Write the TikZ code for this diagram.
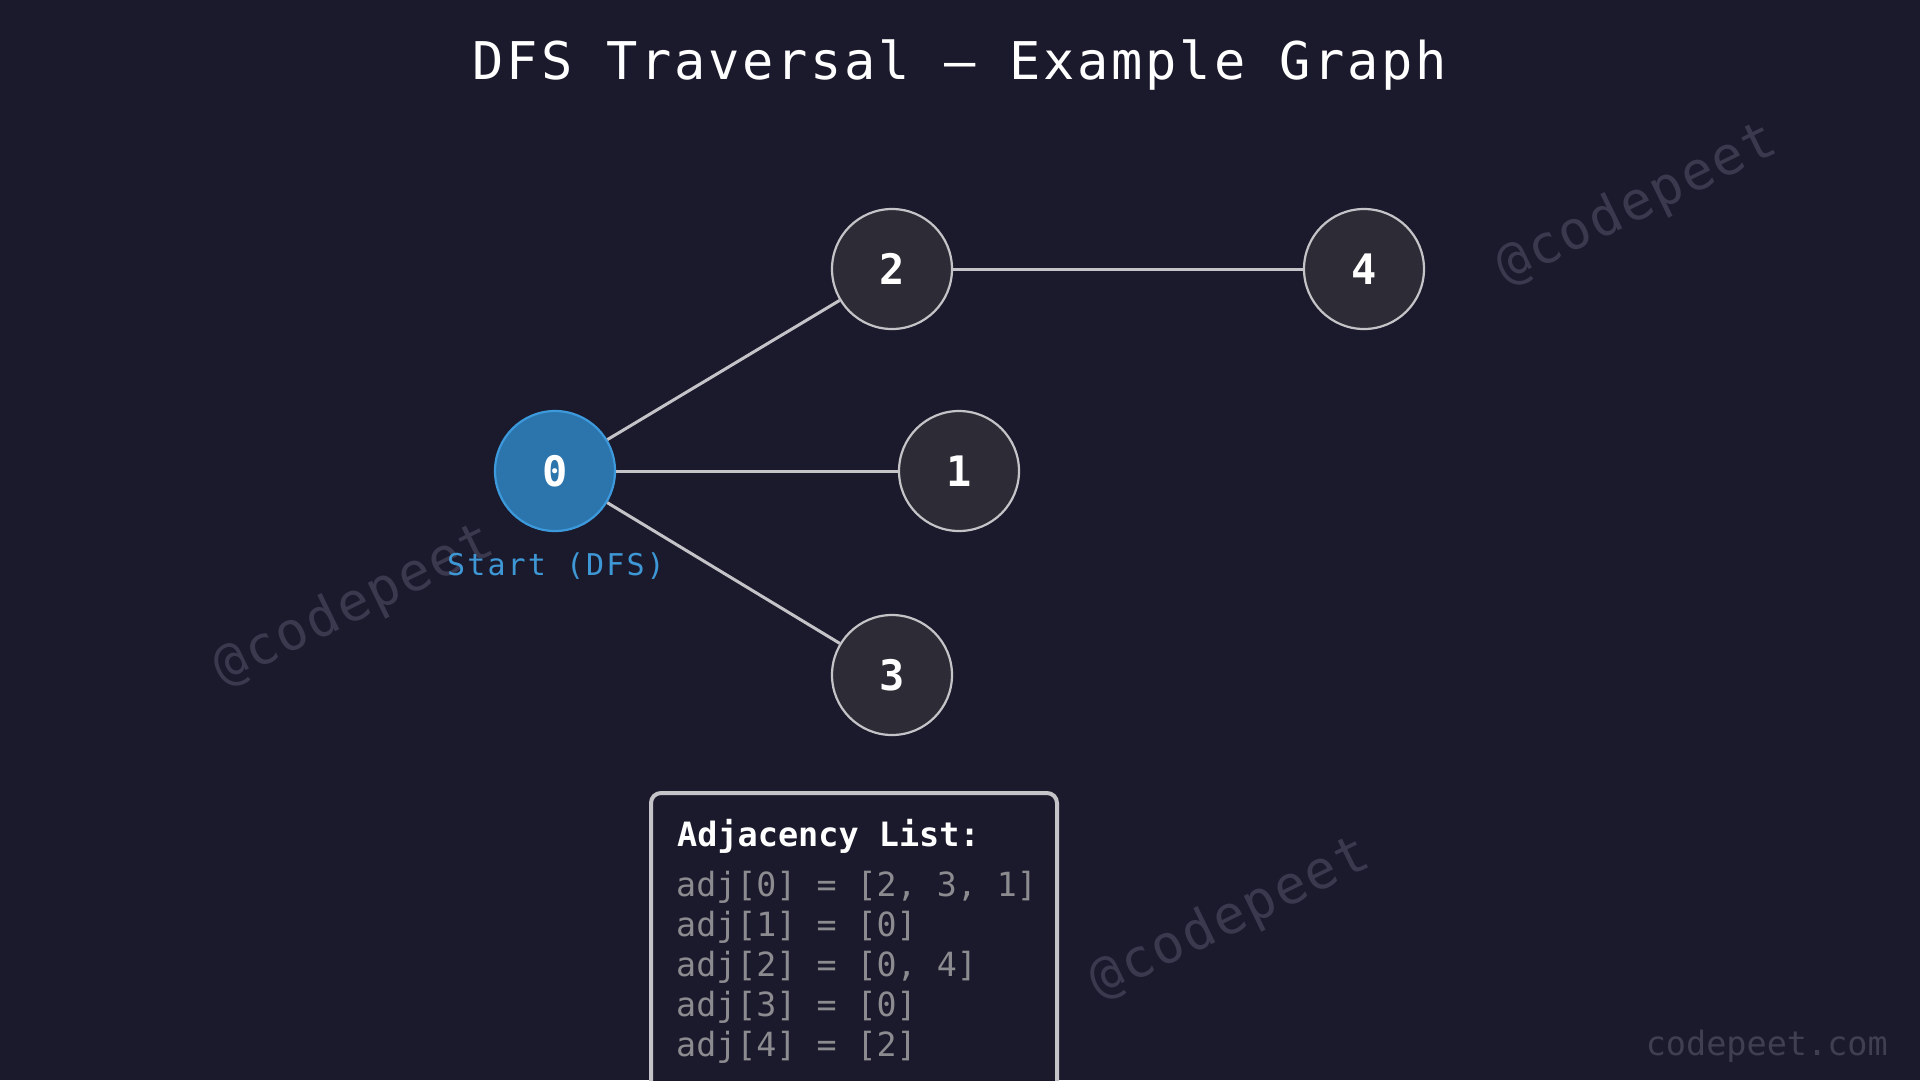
\documentclass[tikz,border=0pt]{standalone}
\usepackage{fontspec}
\setmainfont{DejaVu Sans Mono}
\newfontfamily\mono{DejaVu Sans Mono}
\newfontfamily\monowide[LetterSpace=7]{DejaVu Sans Mono}
\newfontfamily\monotitle[LetterSpace=5.3]{DejaVu Sans Mono}
\newfontfamily\monowm[LetterSpace=4]{DejaVu Sans Mono}
\definecolor{bg}{HTML}{1B1A2D}
\definecolor{nodefill}{HTML}{2D2C36}
\definecolor{edgecol}{HTML}{C4C4C8}
\definecolor{startfill}{HTML}{2C74AC}
\definecolor{startline}{HTML}{3C9ADC}
\definecolor{startlbl}{HTML}{3F98D6}
\definecolor{adjtext}{HTML}{8C8C90}
\definecolor{wm}{HTML}{3A394D}
\definecolor{foot}{HTML}{403F52}
\tikzset{
  gnode/.style={circle, minimum size=120pt, inner sep=0pt, fill=nodefill, draw=edgecol, line width=2.2pt,
    text=white, font={\mono\bfseries\fontsize{42}{42}\selectfont}},
  startnode/.style={gnode, fill=startfill, draw=startline},
  edge/.style={draw=edgecol, line width=3pt},
  watermark/.style={text=wm, rotate=26, font={\monowm\fontsize{53}{53}\selectfont}},
  adjline/.style={anchor=west, text=adjtext, inner sep=0pt, font={\mono\fontsize{33.3}{33.3}\selectfont}}
}
\begin{document}
\begin{tikzpicture}[x=1pt, y=-1pt]
\fill[bg] (0,0) rectangle (1920,1080);
\useasboundingbox (0,0) rectangle (1920,1080);

% watermarks
\node[watermark] (wm1) at (354,606) {@codepeet};
\node[watermark] (wm2) at (1637,205) {@codepeet};
\node[watermark] (wm3) at (1230,919) {@codepeet};

% title
\node[text=white, font={\monotitle\fontsize{52}{52}\selectfont}] (title) at (960,65) {DFS Traversal — Example Graph};

% nodes
\node[startnode] (n0) at (555,471) {0};
\node[gnode] (n1) at (959,471) {1};
\node[gnode] (n2) at (892,269) {2};
\node[gnode] (n3) at (892,675) {3};
\node[gnode] (n4) at (1364,269) {4};

% edges
\draw[edge] (n0) -- (n2);
\draw[edge] (n0) -- (n1);
\draw[edge] (n0) -- (n3);
\draw[edge] (n2) -- (n4);

\node[text=startlbl, font={\monowide\fontsize{30}{30}\selectfont}] (startlbl) at (556,566) {Start (DFS)};

% adjacency list box
\draw[draw=edgecol, line width=4pt, fill=bg, rounded corners=10pt] (651,793) rectangle (1057,1095);
\node[anchor=west, inner sep=0pt, text=white, font={\mono\bfseries\fontsize{33.5}{33.5}\selectfont}] (adjtitle) at (677,836) {Adjacency List:};
\node[adjline] (a0) at (676,887) {adj[0] = [2, 3, 1]};
\node[adjline] (a1) at (676,927) {adj[1] = [0]};
\node[adjline] (a2) at (676,967) {adj[2] = [0, 4]};
\node[adjline] (a3) at (676,1007) {adj[3] = [0]};
\node[adjline] (a4) at (676,1047) {adj[4] = [2]};

% footer
\node[anchor=east, inner sep=0pt, text=foot, font={\mono\fontsize{33.5}{33.5}\selectfont}] (footer) at (1888,1046) {codepeet.com};
\end{tikzpicture}
\end{document}
